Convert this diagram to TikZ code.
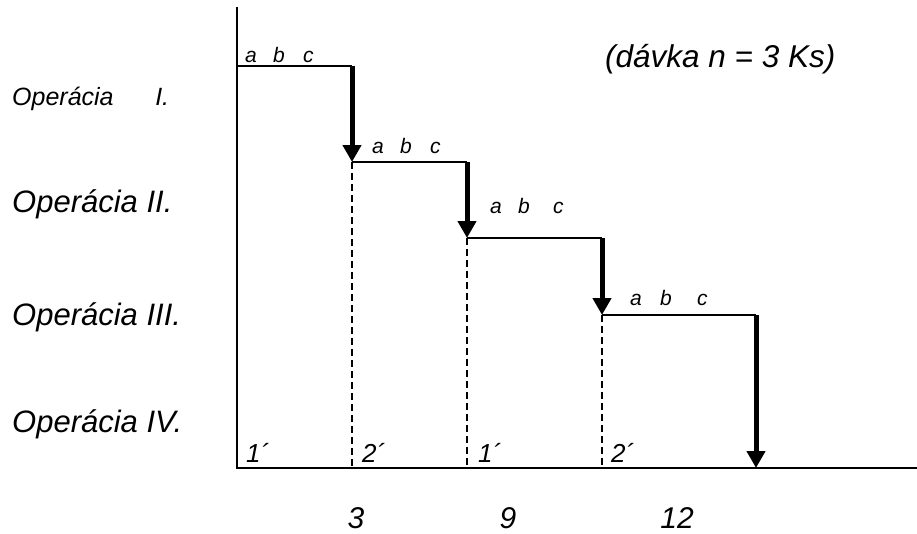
\documentclass[tikz,border=0pt]{standalone}
\usepackage{fontspec}
\setmainfont{Liberation Sans}
\usetikzlibrary{arrows.meta}

\begin{document}
\begin{tikzpicture}[x=1pt,y=-1pt,
  axis/.style={line width=2pt},
  level/.style={line width=1.8pt},
  drop/.style={line width=5pt,-{Triangle[width=18pt,length=17pt]}},
  guide/.style={line width=1.3pt,dash pattern=on 7pt off 4pt},
  oplabel/.style={font=\fontsize{31}{37}\selectfont\itshape,inner sep=0pt,anchor=base west},
  batch/.style={font=\fontsize{21}{25}\selectfont\itshape,inner sep=0pt,anchor=base west},
  tick/.style={font=\fontsize{26}{31}\selectfont\itshape,inner sep=0pt,anchor=base west},
  num/.style={font=\fontsize{30}{36}\selectfont\itshape,inner sep=0pt,anchor=base}]
\useasboundingbox (0,0) rectangle (917,533);

% axes
\coordinate (ytop) at (237,7);
\coordinate (origin) at (237,468);
\coordinate (xend) at (917,468);
\draw[axis] (ytop) -- (origin) -- (xend);

% step corners
\coordinate (s0) at (237,66);
\coordinate (s1) at (352,66);
\coordinate (s2) at (352,162);
\coordinate (s3) at (467,162);
\coordinate (s4) at (467,238);
\coordinate (s5) at (602,238);
\coordinate (s6) at (602,315);
\coordinate (s7) at (756,315);
\coordinate (s8) at (756,468);
\coordinate (b2) at (352,468);
\coordinate (b4) at (467,468);
\coordinate (b6) at (602,468);

\draw[level] (s0) -- (s1);
\draw[level] (s2) -- (s3);
\draw[level] (s4) -- (s5);
\draw[level] (s6) -- (s7);
\draw[drop] (s1) -- (s2);
\draw[drop] (s3) -- (s4);
\draw[drop] (s5) -- (s6);
\draw[drop] (s7) -- (s8);
\draw[guide] (s2) -- (b2);
\draw[guide] (s4) -- (b4);
\draw[guide] (s6) -- (b6);

% pieces of the batch
\node[batch] (abc1) at (245,62) {a\hspace{0.78em}b\hspace{0.87em}c};
\node[batch] (abc2) at (372,153) {a\hspace{0.78em}b\hspace{0.87em}c};
\node[batch] (abc3) at (490,213) {a\hspace{0.78em}b\hspace{1.1em}c};
\node[batch] (abc4) at (630,305) {a\hspace{0.87em}b\hspace{1.2em}c};
\node[font=\fontsize{31.5}{38}\selectfont\itshape,inner sep=0pt,anchor=base west] (davka) at (605,67) {(dávka n = 3 Ks)};

% operations
\node[oplabel,font=\fontsize{25}{30}\selectfont\itshape] (op1) at (12,105) {Operácia\ \ \ \ \ \ I.};
\node[oplabel] (op2) at (12,212) {Operácia II.};
\node[oplabel] (op3) at (12,325) {Operácia III.};
\node[oplabel] (op4) at (12,432) {Operácia IV.};

% shifts and times
\node[tick] (t1) at (246,462) {1´};
\node[tick] (t2) at (362,462) {2´};
\node[tick] (t3) at (478,462) {1´};
\node[tick] (t4) at (611,462) {2´};
\node[num] (n3) at (356,528) {3};
\node[num] (n9) at (508,528) {9};
\node[num] (n12) at (677,528) {12};
\end{tikzpicture}
\end{document}
